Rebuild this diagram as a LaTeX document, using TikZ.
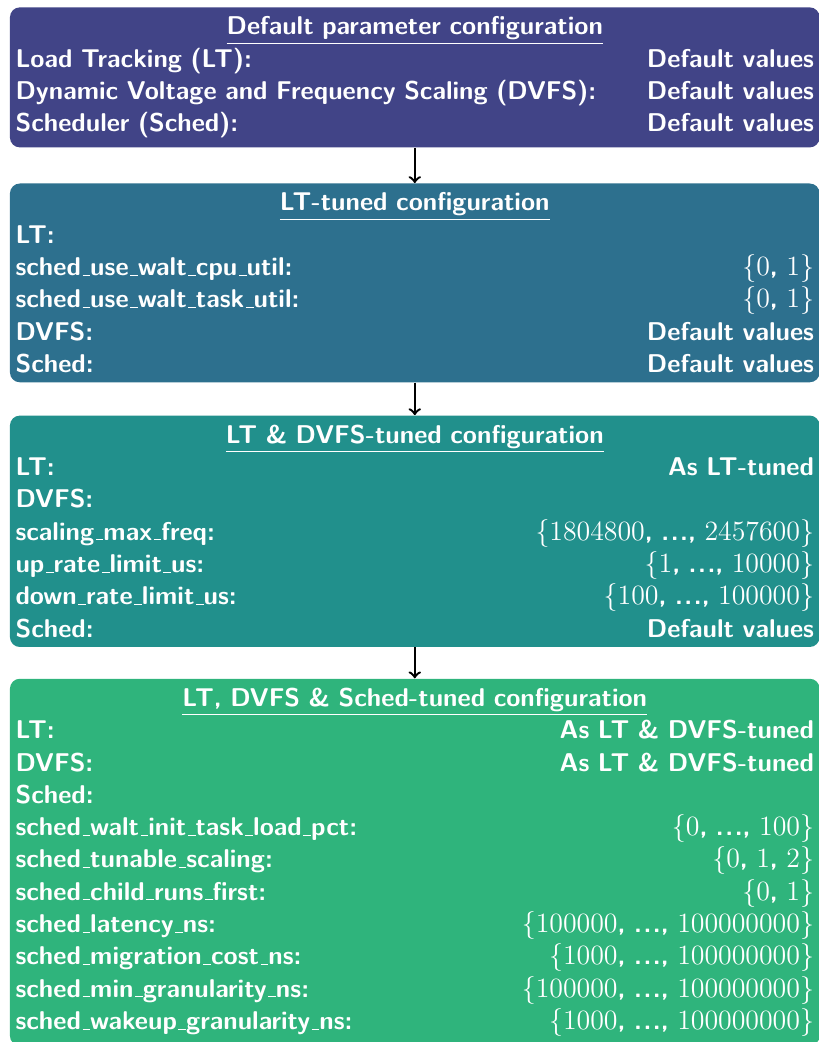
\RequirePackage{fix-cm}
\documentclass[tikz,border=0pt]{standalone}
\usetikzlibrary{positioning}

\definecolor{cfgone}{HTML}{414487}
\definecolor{cfgtwo}{HTML}{2D708E}
\definecolor{cfgthree}{HTML}{21908C}
\definecolor{cfgfour}{HTML}{2FB47C}

% short underscore sitting on the baseline
\renewcommand{\_}{\leavevmode\kern.06em\vbox{\hrule width.3em}}
% one line of a box: name on the left, values on the right
\newcommand{\cfgrow}[2]{#1\hfill #2}
\newcommand{\cfghead}[1]{\hfil\underline{#1}\hfil}
% numbers of a value set, in math
\newcommand{\setval}[1]{{\fontsize{12.9}{14.95}\selectfont$#1$}}
\newcommand{\etc}{.\kern.06em.\kern.06em.}

\begin{document}
\begin{tikzpicture}
        % Define styles
        \tikzset{
            cfgbox/.style={rectangle, rounded corners=4.6pt, text=white,
                text width=369.5pt, inner xsep=2.6pt, inner ysep=4.3pt, align=left,
                font=\fontsize{11.9}{14.95}\selectfont\sffamily\bfseries},
            flow/.style={->, line width=1.1pt}
        }
        \useasboundingbox (0,0) rectangle (379pt,-482.2pt);
        % Default configuration
        \node[cfgbox, fill=cfgone, anchor=north west] (cfgdefault) at (4.4pt,-3.2pt) {
            \cfghead{Default parameter configuration}\\
            \cfgrow{Load Tracking (LT):}{Default values}\\
            \cfgrow{Dynamic Voltage and Frequency Scaling (DVFS):}{Default values}\\
            \cfgrow{Scheduler (Sched):}{Default values}};
        % LT-tuned
        \node[cfgbox, fill=cfgtwo, below=16.3pt of cfgdefault] (cfglt) {
            \cfghead{LT-tuned configuration}\\
            LT:\\
            \cfgrow{sched\_use\_walt\_cpu\_util:}{\setval{\{0}, \setval{1\}}}\\
            \cfgrow{sched\_use\_walt\_task\_util:}{\setval{\{0}, \setval{1\}}}\\
            \cfgrow{DVFS:}{Default values}\\
            \cfgrow{Sched:}{Default values}};
        % LT & DVFS-tuned
        \node[cfgbox, fill=cfgthree, below=15pt of cfglt] (cfgdvfs) {
            \cfghead{LT \& DVFS-tuned configuration}\\
            \cfgrow{LT:}{As LT-tuned}\\
            DVFS:\\
            \cfgrow{scaling\_max\_freq:}{\setval{\{1804800}, \etc, \setval{2457600\}}}\\
            \cfgrow{up\_rate\_limit\_us:}{\setval{\{1}, \etc, \setval{10000\}}}\\
            \cfgrow{down\_rate\_limit\_us:}{\setval{\{100}, \etc, \setval{100000\}}}\\
            \cfgrow{Sched:}{Default values}};
        % LT, DVFS & Sched-tuned
        \node[cfgbox, fill=cfgfour, below=14.3pt of cfgdvfs] (cfgsched) {
            \cfghead{LT, DVFS \& Sched-tuned configuration}\\
            \cfgrow{LT:}{As LT \& DVFS-tuned}\\
            \cfgrow{DVFS:}{As LT \& DVFS-tuned}\\
            Sched:\\
            \cfgrow{sched\_walt\_init\_task\_load\_pct:}{\setval{\{0}, \etc, \setval{100\}}}\\
            \cfgrow{sched\_tunable\_scaling:}{\setval{\{0}, \setval{1}, \setval{2\}}}\\
            \cfgrow{sched\_child\_runs\_first:}{\setval{\{0}, \setval{1\}}}\\
            \cfgrow{sched\_latency\_ns:}{\setval{\{100000}, \etc, \setval{100000000\}}}\\
            \cfgrow{sched\_migration\_cost\_ns:}{\setval{\{1000}, \etc, \setval{100000000\}}}\\
            \cfgrow{sched\_min\_granularity\_ns:}{\setval{\{100000}, \etc, \setval{100000000\}}}\\
            \cfgrow{sched\_wakeup\_granularity\_ns:}{\setval{\{1000}, \etc, \setval{100000000\}}}};
        % Arrows between the stages
        \draw[flow] (cfgdefault) -- (cfglt);
        \draw[flow] (cfglt) -- (cfgdvfs);
        \draw[flow] (cfgdvfs) -- (cfgsched);
\end{tikzpicture}
\end{document}
